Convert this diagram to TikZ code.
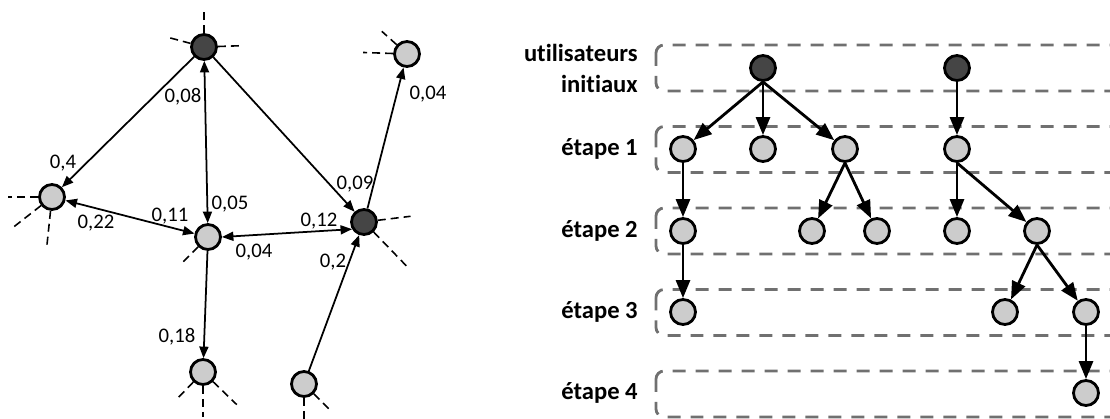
\documentclass[tikz,border=0pt]{standalone}
\usepackage{fontspec}
\setmainfont{Carlito}[Ligatures=NoCommon]
\usetikzlibrary{arrows.meta}

\tikzset{user/.style = {draw, circle, line width=1.6pt, minimum size=5mm, inner sep=0pt}}

\begin{document}
\begin{tikzpicture}[x=0.02cm, y=-0.02cm]
    % Define node styles
    \tikzstyle{seed} = [user, fill=black!73]
    \tikzstyle{reached} = [user, fill=black!20]
    \tikzstyle{link} = [-{Triangle[length=2.3mm,width=1.8mm]}, line width=1pt]
    \tikzstyle{twoway} = [{Triangle[length=2.3mm,width=1.8mm]}-{Triangle[length=2.3mm,width=1.8mm]}, line width=1pt]
    \tikzstyle{weight} = [font=\fontsize{11.8}{13}\selectfont, inner sep=0pt]
    \tikzstyle{stub} = [line width=0.9pt, dash pattern=on 1.6mm off 1mm]
    \tikzstyle{spread} = [-{Triangle[length=3.6mm,width=2.8mm]}, line width=1.6pt]
    \tikzstyle{band} = [draw=black!56, line width=1.6pt, dash pattern=on 2.6mm off 2mm, rounded corners=1.6mm]
    \tikzstyle{stage} = [font=\fontsize{14}{17.6}\selectfont\bfseries, anchor=east, align=right, inner sep=0pt]

    \useasboundingbox (0,0) rectangle (1110,419);

    % Social graph (left)
    \node[seed] (u1) at (204,47) {};
    \node[reached] (u2) at (407,54) {};
    \node[reached] (u3) at (52,197) {};
    \node[reached] (u4) at (208,237) {};
    \node[seed] (u5) at (364,222) {};
    \node[reached] (u6) at (203,372) {};
    \node[reached] (u7) at (304,384) {};

    % Influence links
    \draw[link] (u1) -- (u3);
    \draw[twoway] (u1) -- (u4);
    \draw[link] (u1) -- (u5);
    \draw[link] (u5) -- (u2);
    \draw[twoway] (u3) -- (u4);
    \draw[twoway] (u4.east) -- (u5.211);
    \draw[link] (u4) -- (u6);
    \draw[link] (u7) -- (u5);

    % Link weights
    \node[weight] (w1) at (183,97) {0,08};
    \node[weight] (w2) at (63,163) {0,4};
    \node[weight] (w3) at (355,184) {0,09};
    \node[weight] (w4) at (428,94) {0,04};
    \node[weight] (w5) at (230,204) {0,05};
    \node[weight] (w6) at (96,223) {0,22};
    \node[weight] (w7) at (170,216) {0,11};
    \node[weight] (w8) at (319,221) {0,12};
    \node[weight] (w9) at (254,252) {0,04};
    \node[weight] (w10) at (333,262) {0,2};
    \node[weight] (w11) at (177,337) {0,18};

    % Links to the rest of the network
    \foreach \n/\a/\l in {u1/90/25, u1/165/23, u1/2/22, u2/138/20, u2/178/30,
                          u3/180/30, u3/218/35, u3/264/37, u4/225/22, u5/7/33,
                          u5/314/48, u6/226/22, u6/270/31, u6/316/33, u7/270/25, u7/315/26}
        \draw[stub] (\n.\a) -- ++(\a:{\l*0.2mm});

    % Propagation stages (right)
    \foreach \k in {0,...,4}
        \draw[band] (656,{45+81.5*\k}) rectangle (1140,{91+81.5*\k});

    \node[stage] (l0) at (638,68) {utilisateurs\\initiaux};
    \node[stage] (l1) at (638,149) {étape 1};
    \node[stage] (l2) at (638,231) {étape 2};
    \node[stage] (l3) at (638,312) {étape 3};
    \node[stage] (l4) at (638,393) {étape 4};

    % Cascade trees
    \node[seed] (i1) at (763,68) {};
    \node[seed] (i2) at (957,68) {};
    \node[reached] (a1) at (683,149) {};
    \node[reached] (a2) at (763,149) {};
    \node[reached] (a3) at (845,149) {};
    \node[reached] (a4) at (957,149) {};
    \node[reached] (b1) at (683,231) {};
    \node[reached] (b2) at (812,231) {};
    \node[reached] (b3) at (877,231) {};
    \node[reached] (b4) at (957,231) {};
    \node[reached] (b5) at (1037,231) {};
    \node[reached] (c1) at (683,312) {};
    \node[reached] (c2) at (1005,312) {};
    \node[reached] (c3) at (1086,312) {};
    \node[reached] (d1) at (1086,393) {};

    \foreach \p/\c in {i1/a1, i1/a2, i1/a3, i2/a4, a1/b1, a3/b2, a3/b3,
                       a4/b4, a4/b5, b1/c1, b5/c2, b5/c3, c3/d1}
        \draw[spread] (\p.south) -- (\c);

\end{tikzpicture}
\end{document}
